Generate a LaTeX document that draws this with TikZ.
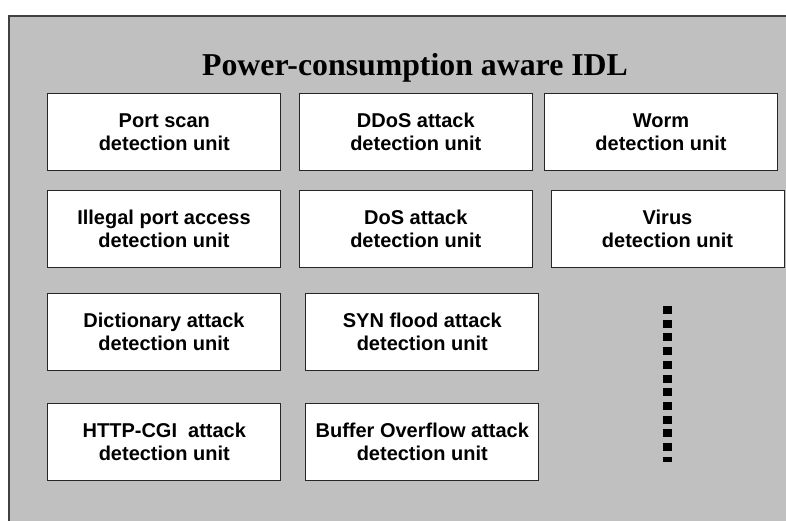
\documentclass[tikz,border=0pt]{standalone}
\usepackage{fontspec}
\setmainfont{Liberation Serif}
\setsansfont{Liberation Sans}
\usepackage{tikz}

\definecolor{panelgray}{HTML}{C0C0C0}
\definecolor{edgegray}{HTML}{404040}

\begin{document}
\begin{tikzpicture}[x=1pt, y=-1pt]
  \tikzset{unit/.style={draw=black!85, fill=white, rectangle, line width=0.9pt,
      minimum width=233pt, minimum height=77.5pt, inner sep=0pt, align=center,
      font=\sffamily\bfseries\fontsize{20}{23}\selectfont}}

  \useasboundingbox (0, 0) rectangle (786, 521);
  \clip (0, 0) rectangle (786, 521);

  % Panel
  \path [fill=panelgray, draw=edgegray, line width=1.3pt] (9, 16) rectangle (810, 560);
  \node [anchor=base, font=\rmfamily\bfseries\fontsize{31.8}{36}\selectfont] (title)
    at (415, 76) {Power-consumption aware IDL};

  % Units
  \foreach \n/\x/\t in {port/164.3/Port scan, ddos/415.8/DDoS attack, worm/661/Worm} {
    \node [unit] (\n) at (\x, 132) {\t\\detection unit};
  }

  \foreach \n/\x/\t in {illegal/164/Illegal port access, dos/415.8/DoS attack, virus/667.5/Virus} {
    \node [unit] (\n) at (\x, 229) {\t\\detection unit};
  }

  \foreach \n/\x/\t in {dict/164/Dictionary attack, syn/422.3/SYN flood attack} {
    \node [unit] (\n) at (\x, 332) {\t\\detection unit};
  }

  \foreach \n/\x/\t in {http/164.3/HTTP-CGI~ attack, buffer/422.3/Buffer Overflow attack} {
    \node [unit] (\n) at (\x, 441.7) {\t\\detection unit};
  }

  % More units
  \draw [line width=8.6pt, dash pattern=on 8pt off 5.7pt] (667.7, 306) -- (667.7, 461.7);

\end{tikzpicture}
\end{document}
